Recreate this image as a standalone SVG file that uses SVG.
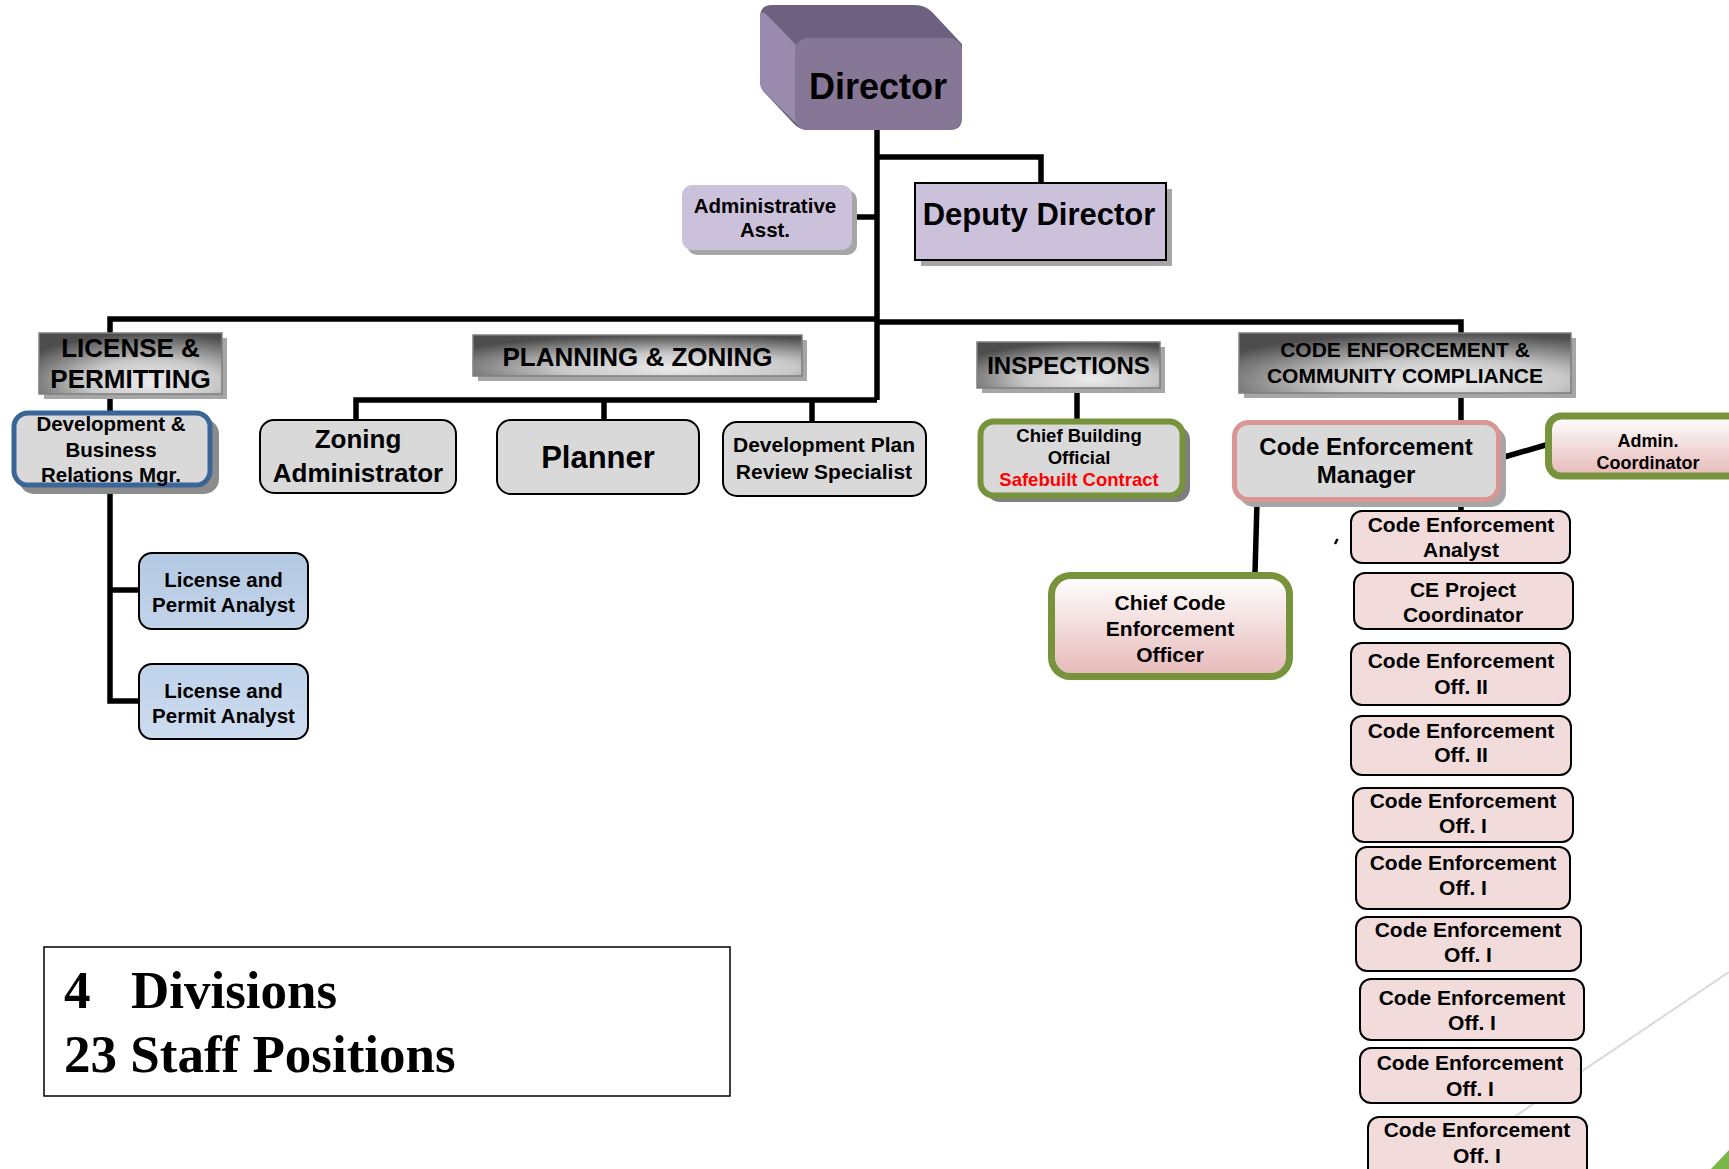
<svg xmlns="http://www.w3.org/2000/svg" width="1729" height="1169" viewBox="0 0 1729 1169">
<defs>
<radialGradient id="hdr" cx="0.62" cy="0.8" r="0.8">
<stop offset="0" stop-color="#ececec"/>
<stop offset="0.45" stop-color="#c8c8c8"/>
<stop offset="1" stop-color="#4d4d4d"/>
</radialGradient>
<linearGradient id="pinkg" x1="0" y1="0" x2="0" y2="1">
<stop offset="0" stop-color="#ffffff"/>
<stop offset="1" stop-color="#e6b9b8"/>
</linearGradient>
<linearGradient id="blue1" x1="0" y1="0" x2="0" y2="1">
<stop offset="0" stop-color="#b3c8e2"/>
<stop offset="1" stop-color="#c2d4ea"/>
</linearGradient>
<linearGradient id="blue2" x1="0" y1="0" x2="0" y2="1">
<stop offset="0" stop-color="#bfd2ea"/>
<stop offset="1" stop-color="#cddcef"/>
</linearGradient>
</defs>
<style>
text{font-family:"Liberation Sans",Arial,sans-serif;font-weight:bold;fill:#000;text-anchor:middle}
.ln{fill:none;stroke:#000;stroke-width:5.5;stroke-linejoin:miter}
.sh{fill:#a6a6a6}
.hdr{fill:url(#hdr);stroke:#7f7f7f;stroke-width:1.5}
.gray{fill:#d9d9d9;stroke:#000;stroke-width:2}
.ce{fill:#f2dcdb;stroke:#000;stroke-width:2}
.lav{fill:#ccc1da}
.grn{fill:url(#pinkg);stroke:#77933c;stroke-width:7}
.f21{font-size:21px}
.serif{font-family:"Liberation Serif","Times New Roman",serif;text-anchor:start;font-size:53px}
</style>
<rect width="1729" height="1169" fill="#ffffff"/>

<line x1="1729" y1="972" x2="1437" y2="1169" stroke="#d9d9d9" stroke-width="2"/>
<polygon points="1711,1169 1729,1150 1729,1169" fill="#7ab648"/>

<g id="connectors">
<path class="ln" d="M877,128 V400"/>
<path class="ln" d="M877,157 H1041 V184"/>
<path class="ln" d="M850,217 H877"/>
<path class="ln" d="M877,319 H110 V701 H140"/>
<path class="ln" d="M110,590 H140"/>
<path class="ln" d="M877,322 H1461 V334"/>
<path class="ln" d="M356,421 V400 H877"/>
<path class="ln" d="M604,400 V421"/>
<path class="ln" d="M812,400 V422"/>
<path class="ln" d="M1077,388 V420"/>
<path class="ln" d="M1461,393 V421"/>
<path class="ln" d="M1461,500 V512"/>
<path class="ln" d="M1494,460 L1549,444"/>
<path class="ln" d="M1257,502 L1255,573"/>
<path d="M1335,544 L1337.5,539" stroke="#000" stroke-width="2.5" fill="none"/>
</g>

<g id="director">
<path d="M772,5 H915 Q925,5 932,12 L962,44 V118 Q962,130 950,130 H808 Q800,130 794,124 L764,92 Q760,88 760,80 V17 Q760,5 772,5 Z" fill="#6e6180"/>
<path d="M760,17 Q760,10 766,14 L797,46 V124 L764,92 Q760,88 760,80 Z" fill="#9a8aae"/>
<rect x="795" y="38" width="167" height="92" rx="13" fill="#877797"/>
<text x="878" y="99" style="font-size:36px">Director</text>
</g>

<g id="admin-asst">
<rect class="sh" x="687" y="190" width="170" height="65" rx="10"/>
<rect class="lav" x="682" y="185" width="170" height="65" rx="10"/>
<text x="765" y="213" style="font-size:20.5px">Administrative</text>
<text x="765" y="237" style="font-size:20.5px">Asst.</text>
</g>

<g id="deputy-director">
<rect class="sh" x="921" y="189" width="251" height="77"/>
<rect class="lav" x="915" y="183" width="251" height="77" stroke="#000" stroke-width="2"/>
<text x="1039" y="225" style="font-size:31px">Deputy Director</text>
</g>

<g id="license-permitting">
<rect class="sh" x="44" y="338" width="183" height="61"/>
<rect class="hdr" x="39" y="333" width="183" height="61"/>
<text x="130.5" y="357" style="font-size:26px">LICENSE &amp;</text>
<text x="130.5" y="388" style="font-size:26px">PERMITTING</text>
</g>

<g id="planning-zoning">
<rect class="sh" x="478" y="340" width="329" height="41"/>
<rect class="hdr" x="473" y="335" width="329" height="41"/>
<text x="637.5" y="365.5" style="font-size:26px">PLANNING &amp; ZONING</text>
</g>

<g id="inspections">
<rect class="sh" x="982" y="347" width="183" height="46"/>
<rect class="hdr" x="977" y="342" width="183" height="46"/>
<text x="1068.5" y="374" style="font-size:24px">INSPECTIONS</text>
</g>

<g id="code-enforcement-div">
<rect class="sh" x="1244" y="338" width="332" height="60"/>
<rect class="hdr" x="1239" y="333" width="332" height="60"/>
<text x="1405" y="357" class="f21">CODE ENFORCEMENT &amp;</text>
<text x="1405" y="383" class="f21">COMMUNITY COMPLIANCE</text>
</g>

<g id="dev-business-mgr">
<rect x="19" y="419" width="200" height="75" rx="15" fill="#8c8c8c"/>
<rect x="14" y="413" width="196" height="72" rx="14" fill="#d9d9d9" stroke="#3b6497" stroke-width="5"/>
<text x="111" y="431" style="font-size:20.5px">Development &amp;</text>
<text x="111" y="456.5" style="font-size:20.5px">Business</text>
<text x="111" y="481.5" style="font-size:20.5px">Relations Mgr.</text>
</g>

<g id="license-analyst-1">
<rect x="139" y="553" width="169" height="76" rx="13" fill="url(#blue1)" stroke="#000" stroke-width="2"/>
<text x="223.5" y="587" style="font-size:20.5px">License and</text>
<text x="223.5" y="612" style="font-size:20.5px">Permit Analyst</text>
</g>

<g id="license-analyst-2">
<rect x="139" y="664" width="169" height="75" rx="13" fill="url(#blue2)" stroke="#000" stroke-width="2"/>
<text x="223.5" y="698" style="font-size:20.5px">License and</text>
<text x="223.5" y="723" style="font-size:20.5px">Permit Analyst</text>
</g>

<g id="zoning-admin">
<rect class="gray" x="260" y="420" width="196" height="73" rx="14"/>
<text x="358" y="448" style="font-size:26px">Zoning</text>
<text x="358" y="481.5" style="font-size:26px">Administrator</text>
</g>

<g id="planner">
<rect class="gray" x="497" y="420" width="202" height="74" rx="14"/>
<text x="598" y="468" style="font-size:31px">Planner</text>
</g>

<g id="dev-plan-review">
<rect class="gray" x="723" y="422" width="203" height="74" rx="14"/>
<text x="824" y="452" class="f21">Development Plan</text>
<text x="824" y="479" class="f21">Review Specialist</text>
</g>

<g id="chief-building">
<rect x="986" y="426" width="204" height="76" rx="14" fill="#7f7f7f"/>
<rect x="980.5" y="421.5" width="202" height="74" rx="13" fill="#d9d9d9" stroke="#77933c" stroke-width="6"/>
<text x="1079" y="442" style="font-size:18.5px">Chief Building</text>
<text x="1079" y="464" style="font-size:18.5px">Official</text>
<text x="1079" y="486" style="font-size:18.5px;fill:#ff0000">Safebuilt Contract</text>
</g>

<g id="ce-manager">
<rect class="sh" x="1239" y="427" width="267" height="80" rx="15"/>
<rect x="1234.5" y="422.5" width="264" height="77" rx="14" fill="#d9d9d9" stroke="#d99694" stroke-width="5"/>
<text x="1366" y="455" style="font-size:24px">Code Enforcement</text>
<text x="1366" y="483" style="font-size:24px">Manager</text>
</g>

<g id="admin-coordinator">
<rect class="grn" x="1548.5" y="416" width="203" height="60" rx="13"/>
<text x="1648" y="447" style="font-size:18px">Admin.</text>
<text x="1648" y="469" style="font-size:18px">Coordinator</text>
</g>

<g id="chief-code-officer">
<rect class="grn" x="1051.5" y="575.5" width="238" height="101" rx="19"/>
<text x="1170" y="610" class="f21">Chief Code</text>
<text x="1170" y="636" class="f21">Enforcement</text>
<text x="1170" y="661.5" class="f21">Officer</text>
</g>

<g id="ce-analyst">
<rect class="ce" x="1351" y="511" width="219" height="52" rx="11"/>
<text x="1461" y="531.5" class="f21">Code Enforcement</text>
<text x="1461" y="556.5" class="f21">Analyst</text>
</g>
<g id="ce-project-coord">
<rect class="ce" x="1354" y="573" width="219" height="56" rx="11"/>
<text x="1463" y="597" class="f21">CE Project</text>
<text x="1463" y="622" class="f21">Coordinator</text>
</g>
<g id="ce-off-ii-1">
<rect class="ce" x="1351" y="643" width="219" height="62" rx="11"/>
<text x="1461" y="668" class="f21">Code Enforcement</text>
<text x="1461" y="694" class="f21">Off. II</text>
</g>
<g id="ce-off-ii-2">
<rect class="ce" x="1351" y="716" width="220" height="59" rx="11"/>
<text x="1461" y="738" class="f21">Code Enforcement</text>
<text x="1461" y="762" class="f21">Off. II</text>
</g>
<g id="ce-off-i-1">
<rect class="ce" x="1353" y="788" width="220" height="54" rx="11"/>
<text x="1463" y="807.5" class="f21">Code Enforcement</text>
<text x="1463" y="832.5" class="f21">Off. I</text>
</g>
<g id="ce-off-i-2">
<rect class="ce" x="1356" y="847" width="214" height="62" rx="11"/>
<text x="1463" y="870" class="f21">Code Enforcement</text>
<text x="1463" y="895" class="f21">Off. I</text>
</g>
<g id="ce-off-i-3">
<rect class="ce" x="1356" y="917" width="225" height="54" rx="11"/>
<text x="1468" y="937" class="f21">Code Enforcement</text>
<text x="1468" y="961.5" class="f21">Off. I</text>
</g>
<g id="ce-off-i-4">
<rect class="ce" x="1360" y="979" width="224" height="61" rx="11"/>
<text x="1472" y="1005" class="f21">Code Enforcement</text>
<text x="1472" y="1030" class="f21">Off. I</text>
</g>
<g id="ce-off-i-5">
<rect class="ce" x="1360" y="1048" width="221" height="55" rx="11"/>
<text x="1470" y="1070" class="f21">Code Enforcement</text>
<text x="1470" y="1096" class="f21">Off. I</text>
</g>
<g id="ce-off-i-6">
<rect class="ce" x="1368" y="1117" width="219" height="64" rx="11"/>
<text x="1477" y="1137" class="f21">Code Enforcement</text>
<text x="1477" y="1163" class="f21">Off. I</text>
</g>

<g id="summary">
<rect x="44" y="947" width="686" height="149" fill="#ffffff" stroke="#000" stroke-width="1.5"/>
<text class="serif" x="64" y="1008">4</text>
<text class="serif" x="131" y="1008">Divisions</text>
<text class="serif" x="64" y="1072">23 Staff Positions</text>
</g>
</svg>
